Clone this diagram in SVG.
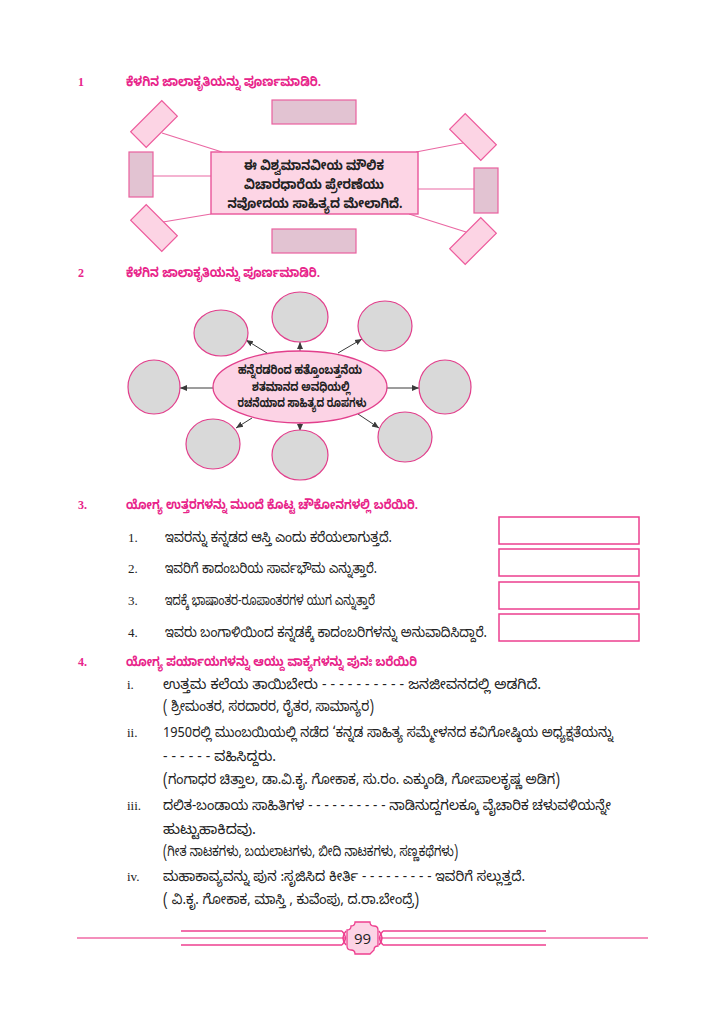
<svg xmlns="http://www.w3.org/2000/svg" width="724" height="1024" viewBox="0 0 724 1024">
<defs>
<marker id="ah" markerWidth="8" markerHeight="8" refX="7" refY="4" orient="auto" markerUnits="userSpaceOnUse">
<path d="M0,1 L7,4 L0,7 z" fill="#3a3a3a"/>
</marker>
</defs>
<style>
.hd{font-family:"Noto Sans Kannada","Noto Sans",sans-serif;font-weight:bold;fill:#e8248a;font-size:13px}
.num{font-family:"Liberation Serif",serif;font-weight:bold;fill:#e8248a;font-size:12px}
.inum{font-family:"Liberation Serif",serif;fill:#222;font-size:13px}
.body{font-family:"Noto Sans Kannada","Noto Sans",sans-serif;fill:#222;font-size:14px}
.ctr{font-family:"Noto Sans Kannada","Noto Sans",sans-serif;fill:#222;font-weight:bold;text-anchor:middle}
.dia{fill:#fcd4e4;stroke:#ee5a9c;stroke-width:1.2}
.side{fill:#e2c3d2;stroke:#e9609e;stroke-width:1.2}
.link{stroke:#ea68a3;stroke-width:1.2;fill:none}
.circ{fill:#d9d9d9;stroke:#e23f8c;stroke-width:1.2}
.arr{stroke:#3a3a3a;stroke-width:1;fill:none;marker-end:url(#ah)}
.box{fill:#fff;stroke:#ec3f8f;stroke-width:1.5}
.foot{stroke:#ee3f8f;stroke-width:1.5;fill:none}
</style>

<g id="headings">
<text class="num" x="78" y="86">1</text>
<text class="hd" x="126" y="86" textLength="195" lengthAdjust="spacingAndGlyphs">ಕೆಳಗಿನ ಜಾಲಾಕೃತಿಯನ್ನು  ಪೂರ್ಣಮಾಡಿರಿ.</text>
<text class="num" x="78" y="277">2</text>
<text class="hd" x="126" y="277" textLength="194" lengthAdjust="spacingAndGlyphs">ಕೆಳಗಿನ ಜಾಲಾಕೃತಿಯನ್ನು ಪೂರ್ಣಮಾಡಿರಿ.</text>
<text class="num" x="78" y="509">3.</text>
<text class="hd" x="126" y="509" textLength="292" lengthAdjust="spacingAndGlyphs">ಯೋಗ್ಯ ಉತ್ತರಗಳನ್ನು ಮುಂದೆ ಕೊಟ್ಟ ಚೌಕೋನಗಳಲ್ಲಿ ಬರೆಯಿರಿ.</text>
<text class="num" x="78" y="666">4.</text>
<text class="hd" x="126" y="666" textLength="291" lengthAdjust="spacingAndGlyphs">ಯೋಗ್ಯ ಪರ್ಯಾಯಗಳನ್ನು ಆಯ್ದು  ವಾಕ್ಯಗಳನ್ನು ಪುನಃ ಬರೆಯಿರಿ</text>
</g>

<g id="web1-connectors">
<line class="link" x1="162" y1="133" x2="222" y2="152"/>
<line class="link" x1="153" y1="176" x2="211" y2="176"/>
<line class="link" x1="163" y1="222" x2="211" y2="214"/>
<line class="link" x1="416" y1="152" x2="463" y2="143"/>
<line class="link" x1="418" y1="189" x2="474" y2="189"/>
<line class="link" x1="409" y1="214" x2="466" y2="232"/>
</g>
<g id="web1-center">
<rect x="211" y="152" width="207" height="62" fill="#fdd5e5" stroke="#e8559a" stroke-width="1.4"/>
<text class="ctr" font-size="13.5" x="314" y="170" textLength="140" lengthAdjust="spacingAndGlyphs">ಈ ವಿಶ್ವಮಾನವೀಯ ಮೌಲಿಕ</text>
<text class="ctr" font-size="13.5" x="314" y="189" textLength="140" lengthAdjust="spacingAndGlyphs">ವಿಚಾರಧಾರೆಯ ಪ್ರೇರಣೆಯು</text>
<text class="ctr" font-size="13.5" x="315" y="208" textLength="175" lengthAdjust="spacingAndGlyphs">ನವೋದಯ ಸಾಹಿತ್ಯದ ಮೇಲಾಗಿದೆ.</text>
</g>
<g id="web1-top"><rect class="side" x="272" y="100" width="84" height="24"/></g>
<g id="web1-bottom"><rect class="side" x="272" y="229" width="84" height="24"/></g>
<g id="web1-left"><rect class="side" x="129" y="152" width="24" height="45"/></g>
<g id="web1-right"><rect class="side" x="474" y="168" width="24" height="45"/></g>
<g id="web1-tl"><rect class="dia" x="-22" y="-11" width="44" height="22" transform="translate(154,124) rotate(-45)"/></g>
<g id="web1-bl"><rect class="dia" x="-22" y="-11" width="44" height="22" transform="translate(154,228) rotate(45)"/></g>
<g id="web1-tr"><rect class="dia" x="-22" y="-11" width="44" height="22" transform="translate(473,137) rotate(45)"/></g>
<g id="web1-br"><rect class="dia" x="-22" y="-11" width="44" height="22" transform="translate(473,241) rotate(-45)"/></g>

<g id="web2-connectors">
<line class="arr" x1="267" y1="353" x2="246" y2="340"/>
<line class="arr" x1="300" y1="351" x2="300" y2="342"/>
<line class="arr" x1="338" y1="353" x2="362" y2="339"/>
<line class="arr" x1="213" y1="388" x2="180" y2="388"/>
<line class="arr" x1="387" y1="388" x2="419" y2="388"/>
<line class="arr" x1="252" y1="418" x2="236" y2="428"/>
<line class="arr" x1="300" y1="423" x2="300" y2="431"/>
<line class="arr" x1="358" y1="414" x2="379" y2="428"/>
</g>
<g id="web2-center">
<ellipse cx="300" cy="387" rx="87" ry="36" fill="#fcd3e5" stroke="#e23f8c" stroke-width="1.3"/>
<text class="ctr" font-size="12.5" x="300" y="374" textLength="124" lengthAdjust="spacingAndGlyphs">ಹನ್ನೆರಡರಿಂದ ಹತ್ತೊಂಬತ್ತನೆಯ</text>
<text class="ctr" font-size="12.5" x="301" y="391" textLength="98" lengthAdjust="spacingAndGlyphs">ಶತಮಾನದ ಅವಧಿಯಲ್ಲಿ</text>
<text class="ctr" font-size="12.5" x="302" y="407" textLength="129" lengthAdjust="spacingAndGlyphs">ರಚನೆಯಾದ ಸಾಹಿತ್ಯದ ರೂಪಗಳು</text>
</g>
<g id="web2-c1"><ellipse class="circ" cx="221" cy="333" rx="27" ry="23"/></g>
<g id="web2-c2"><ellipse class="circ" cx="300" cy="317" rx="28" ry="25"/></g>
<g id="web2-c3"><ellipse class="circ" cx="385" cy="326" rx="27" ry="25"/></g>
<g id="web2-c4"><ellipse class="circ" cx="154" cy="387" rx="26" ry="27"/></g>
<g id="web2-c5"><ellipse class="circ" cx="445" cy="387" rx="26" ry="27"/></g>
<g id="web2-c6"><ellipse class="circ" cx="213" cy="444" rx="27" ry="25"/></g>
<g id="web2-c7"><ellipse class="circ" cx="300" cy="455" rx="28" ry="25"/></g>
<g id="web2-c8"><ellipse class="circ" cx="405" cy="437" rx="27" ry="25"/></g>

<g id="q3">
<text class="inum" x="128" y="542">1.</text>
<text class="body" x="165" y="542" textLength="227" lengthAdjust="spacingAndGlyphs">ಇವರನ್ನು ಕನ್ನಡದ ಆಸ್ತಿ ಎಂದು ಕರೆಯಲಾಗುತ್ತದೆ.</text>
<text class="inum" x="128" y="573">2.</text>
<text class="body" x="165" y="573" textLength="212" lengthAdjust="spacingAndGlyphs">ಇವರಿಗೆ ಕಾದಂಬರಿಯ ಸಾರ್ವಭೌಮ ಎನ್ನುತ್ತಾರೆ.</text>
<text class="inum" x="128" y="605">3.</text>
<text class="body" x="165" y="605" textLength="210" lengthAdjust="spacingAndGlyphs">ಇದಕ್ಕೆ ಭಾಷಾಂತರ-ರೂಪಾಂತರಗಳ ಯುಗ ಎನ್ನುತ್ತಾರೆ</text>
<text class="inum" x="128" y="637">4.</text>
<text class="body" x="165" y="637" textLength="322" lengthAdjust="spacingAndGlyphs">ಇವರು ಬಂಗಾಳಿಯಿಂದ ಕನ್ನಡಕ್ಕೆ ಕಾದಂಬರಿಗಳನ್ನು ಅನುವಾದಿಸಿದ್ದಾರೆ.</text>
</g>
<g id="q3-boxes">
<rect class="box" x="499" y="517" width="140" height="27"/>
<rect class="box" x="499" y="549" width="140" height="27"/>
<rect class="box" x="499" y="582" width="140" height="27"/>
<rect class="box" x="499" y="614" width="140" height="27"/>
</g>

<g id="q4">
<text class="inum" x="127" y="689">i.</text>
<text class="body" x="163" y="689" textLength="378" lengthAdjust="spacingAndGlyphs">ಉತ್ತಮ ಕಲೆಯ ತಾಯಿಬೇರು - - - - - - - - - - ಜನಜೀವನದಲ್ಲಿ ಅಡಗಿದೆ.</text>
<text class="body" x="163" y="711" textLength="211" lengthAdjust="spacingAndGlyphs">( ಶ್ರೀಮಂತರ, ಸರದಾರರ, ರೈತರ, ಸಾಮಾನ್ಯರ)</text>
<text class="inum" x="127" y="737">ii.</text>
<text class="body" x="163" y="737" textLength="450" lengthAdjust="spacingAndGlyphs">1950ರಲ್ಲಿ ಮುಂಬಯಿಯಲ್ಲಿ ನಡೆದ ‘ಕನ್ನಡ ಸಾಹಿತ್ಯ ಸಮ್ಮೇಳನದ ಕವಿಗೋಷ್ಠಿಯ ಅಧ್ಯಕ್ಷತೆಯನ್ನು</text>
<text class="body" x="163" y="761" textLength="113" lengthAdjust="spacingAndGlyphs">- - - - - - ವಹಿಸಿದ್ದರು.</text>
<text class="body" x="163" y="784" textLength="397" lengthAdjust="spacingAndGlyphs">(ಗಂಗಾಧರ ಚಿತ್ತಾಲ, ಡಾ.ವಿ.ಕೃ. ಗೋಕಾಕ, ಸು.ರಂ. ಎಕ್ಕುಂಡಿ, ಗೋಪಾಲಕೃಷ್ಣ ಅಡಿಗ)</text>
<text class="inum" x="127" y="810">iii.</text>
<text class="body" x="163" y="810" textLength="448" lengthAdjust="spacingAndGlyphs">ದಲಿತ-ಬಂಡಾಯ ಸಾಹಿತಿಗಳ   - - - - - - - - - - ನಾಡಿನುದ್ದಗಲಕ್ಕೂ ವೈಚಾರಿಕ ಚಳುವಳಿಯನ್ನೇ</text>
<text class="body" x="163" y="834" textLength="93" lengthAdjust="spacingAndGlyphs">ಹುಟ್ಟುಹಾಕಿದವು.</text>
<text class="body" x="163" y="856" textLength="295" lengthAdjust="spacingAndGlyphs">(ಗೀತ ನಾಟಕಗಳು, ಬಯಲಾಟಗಳು, ಬೀದಿ ನಾಟಕಗಳು, ಸಣ್ಣಕಥೆಗಳು)</text>
<text class="inum" x="127" y="881">iv.</text>
<text class="body" x="163" y="881" textLength="362" lengthAdjust="spacingAndGlyphs">ಮಹಾಕಾವ್ಯವನ್ನು ಪುನ :ಸೃಜಿಸಿದ ಕೀರ್ತಿ  - - - - - - - - - ಇವರಿಗೆ ಸಲ್ಲುತ್ತದೆ.</text>
<text class="body" x="163" y="904" textLength="256" lengthAdjust="spacingAndGlyphs">( ವಿ.ಕೃ. ಗೋಕಾಕ, ಮಾಸ್ತಿ , ಕುವೆಂಪು, ದ.ರಾ.ಬೇಂದ್ರೆ)</text>
</g>

<g id="footer">
<line x1="77" y1="938" x2="346" y2="938" stroke="#f06aa6" stroke-width="1.3"/>
<line x1="379" y1="938" x2="648" y2="938" stroke="#f06aa6" stroke-width="1.3"/>
<line class="foot" x1="181" y1="931" x2="342" y2="931"/>
<line class="foot" x1="181" y1="945" x2="342" y2="945"/>
<line class="foot" x1="383" y1="931" x2="546" y2="931"/>
<line class="foot" x1="383" y1="945" x2="546" y2="945"/>
<path d="M342,931 Q349,938 342,945 M346,931 Q340,938 346,945" class="foot"/>
<path d="M383,931 Q376,938 383,945 M379,931 Q385,938 379,945" class="foot"/>
<path d="M355,922 L370,922 Q370,926 374,926 Q378,926 378,930 L378,946 Q374,946 374,950 L370,954 L355,954 Q355,950 351,950 Q347,950 347,946 L347,930 Q351,930 351,926 Q355,926 355,922 z" fill="#fcd3e5" stroke="#ee3f8f" stroke-width="1.3"/>
<text x="362.5" y="944" font-family="'Open Sans','Liberation Sans',sans-serif" font-size="15" fill="#222" text-anchor="middle">99</text>
</g>
</svg>
